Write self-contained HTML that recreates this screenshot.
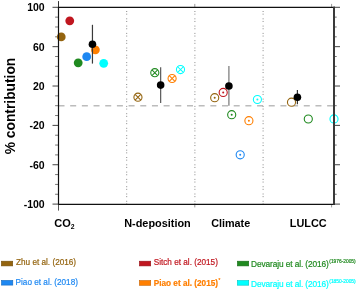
<!DOCTYPE html>
<html><head><meta charset="utf-8"><style>
html,body{margin:0;padding:0;background:#fff;width:357px;height:289px;overflow:hidden}
svg{display:block;transform:translateZ(0);will-change:transform;font-family:"Liberation Sans",sans-serif}
</style></head><body>
<svg width="357" height="289" viewBox="0 0 357 289">
<line x1="58.5" y1="105.85" x2="334.0" y2="105.85" stroke="#bcbcbc" stroke-width="1.5" stroke-dasharray="6 5.68"/>
<line x1="126.7" y1="7.3" x2="126.7" y2="204.1" stroke="#8a8a8a" stroke-width="1" stroke-dasharray="1 1.65 1 3.65" stroke-dashoffset="-3.7"/>
<line x1="194.9" y1="7.3" x2="194.9" y2="204.1" stroke="#8a8a8a" stroke-width="1" stroke-dasharray="1 1.65 1 3.65" stroke-dashoffset="-3.7"/>
<line x1="263.1" y1="7.3" x2="263.1" y2="204.1" stroke="#8a8a8a" stroke-width="1" stroke-dasharray="1 1.65 1 3.65" stroke-dashoffset="-3.7"/>
<line x1="52.5" y1="204.10" x2="58.5" y2="204.10" stroke="#444" stroke-width="1"/>
<line x1="334.0" y1="204.10" x2="340.0" y2="204.10" stroke="#444" stroke-width="1"/>
<line x1="55.1" y1="194.26" x2="58.5" y2="194.26" stroke="#777" stroke-width="1"/>
<line x1="334.0" y1="194.26" x2="336.7" y2="194.26" stroke="#777" stroke-width="1"/>
<line x1="55.1" y1="184.42" x2="58.5" y2="184.42" stroke="#777" stroke-width="1"/>
<line x1="334.0" y1="184.42" x2="336.7" y2="184.42" stroke="#777" stroke-width="1"/>
<line x1="55.1" y1="174.58" x2="58.5" y2="174.58" stroke="#777" stroke-width="1"/>
<line x1="334.0" y1="174.58" x2="336.7" y2="174.58" stroke="#777" stroke-width="1"/>
<line x1="52.5" y1="164.74" x2="58.5" y2="164.74" stroke="#444" stroke-width="1"/>
<line x1="334.0" y1="164.74" x2="340.0" y2="164.74" stroke="#444" stroke-width="1"/>
<line x1="55.1" y1="154.90" x2="58.5" y2="154.90" stroke="#777" stroke-width="1"/>
<line x1="334.0" y1="154.90" x2="336.7" y2="154.90" stroke="#777" stroke-width="1"/>
<line x1="55.1" y1="145.06" x2="58.5" y2="145.06" stroke="#777" stroke-width="1"/>
<line x1="334.0" y1="145.06" x2="336.7" y2="145.06" stroke="#777" stroke-width="1"/>
<line x1="55.1" y1="135.22" x2="58.5" y2="135.22" stroke="#777" stroke-width="1"/>
<line x1="334.0" y1="135.22" x2="336.7" y2="135.22" stroke="#777" stroke-width="1"/>
<line x1="52.5" y1="125.38" x2="58.5" y2="125.38" stroke="#444" stroke-width="1"/>
<line x1="334.0" y1="125.38" x2="340.0" y2="125.38" stroke="#444" stroke-width="1"/>
<line x1="55.1" y1="115.54" x2="58.5" y2="115.54" stroke="#777" stroke-width="1"/>
<line x1="334.0" y1="115.54" x2="336.7" y2="115.54" stroke="#777" stroke-width="1"/>
<line x1="55.1" y1="105.70" x2="58.5" y2="105.70" stroke="#777" stroke-width="1"/>
<line x1="334.0" y1="105.70" x2="336.7" y2="105.70" stroke="#777" stroke-width="1"/>
<line x1="55.1" y1="95.86" x2="58.5" y2="95.86" stroke="#777" stroke-width="1"/>
<line x1="334.0" y1="95.86" x2="336.7" y2="95.86" stroke="#777" stroke-width="1"/>
<line x1="52.5" y1="86.02" x2="58.5" y2="86.02" stroke="#444" stroke-width="1"/>
<line x1="334.0" y1="86.02" x2="340.0" y2="86.02" stroke="#444" stroke-width="1"/>
<line x1="55.1" y1="76.18" x2="58.5" y2="76.18" stroke="#777" stroke-width="1"/>
<line x1="334.0" y1="76.18" x2="336.7" y2="76.18" stroke="#777" stroke-width="1"/>
<line x1="55.1" y1="66.34" x2="58.5" y2="66.34" stroke="#777" stroke-width="1"/>
<line x1="334.0" y1="66.34" x2="336.7" y2="66.34" stroke="#777" stroke-width="1"/>
<line x1="55.1" y1="56.50" x2="58.5" y2="56.50" stroke="#777" stroke-width="1"/>
<line x1="334.0" y1="56.50" x2="336.7" y2="56.50" stroke="#777" stroke-width="1"/>
<line x1="52.5" y1="46.66" x2="58.5" y2="46.66" stroke="#444" stroke-width="1"/>
<line x1="334.0" y1="46.66" x2="340.0" y2="46.66" stroke="#444" stroke-width="1"/>
<line x1="55.1" y1="36.82" x2="58.5" y2="36.82" stroke="#777" stroke-width="1"/>
<line x1="334.0" y1="36.82" x2="336.7" y2="36.82" stroke="#777" stroke-width="1"/>
<line x1="55.1" y1="26.98" x2="58.5" y2="26.98" stroke="#777" stroke-width="1"/>
<line x1="334.0" y1="26.98" x2="336.7" y2="26.98" stroke="#777" stroke-width="1"/>
<line x1="55.1" y1="17.14" x2="58.5" y2="17.14" stroke="#777" stroke-width="1"/>
<line x1="334.0" y1="17.14" x2="336.7" y2="17.14" stroke="#777" stroke-width="1"/>
<line x1="52.5" y1="7.30" x2="58.5" y2="7.30" stroke="#444" stroke-width="1"/>
<line x1="334.0" y1="7.30" x2="340.0" y2="7.30" stroke="#444" stroke-width="1"/>
<line x1="58.5" y1="7.3" x2="58.5" y2="1.1" stroke="#333" stroke-width="1"/>
<line x1="58.5" y1="204.1" x2="58.5" y2="210.6" stroke="#555" stroke-width="1"/>
<line x1="194.8" y1="7.3" x2="194.8" y2="3.9" stroke="#999" stroke-width="1"/>
<line x1="194.8" y1="204.1" x2="194.8" y2="207.4" stroke="#999" stroke-width="1"/>
<line x1="331.6" y1="7.3" x2="331.6" y2="3.9" stroke="#999" stroke-width="1"/>
<line x1="331.6" y1="204.1" x2="331.6" y2="207.4" stroke="#999" stroke-width="1"/>
<text x="44.7" y="11.40" text-anchor="end" font-weight="bold" font-size="10.5">100</text>
<text x="44.7" y="50.76" text-anchor="end" font-weight="bold" font-size="10.5">60</text>
<text x="44.7" y="90.12" text-anchor="end" font-weight="bold" font-size="10.5">20</text>
<text x="44.7" y="129.48" text-anchor="end" font-weight="bold" font-size="10.5">-20</text>
<text x="44.7" y="168.84" text-anchor="end" font-weight="bold" font-size="10.5">-60</text>
<text x="44.7" y="208.20" text-anchor="end" font-weight="bold" font-size="10.5">-100</text>
<text transform="translate(15,106) rotate(-90)" text-anchor="middle" font-weight="bold" font-size="13.8">% contribution</text>
<text x="54.2" y="227.2" font-weight="bold" font-size="11">CO<tspan font-size="6.8" dy="2">2</tspan></text>
<text x="124.2" y="227.2" font-weight="bold" font-size="10.9">N-deposition</text>
<text x="211.2" y="227.2" font-weight="bold" font-size="10.8">Climate</text>
<text x="289.8" y="227.2" font-weight="bold" font-size="10.9">LULCC</text>
<circle cx="61.25" cy="36.9" r="4.4" fill="#94640f"/>
<circle cx="69.75" cy="20.85" r="4.4" fill="#c0161f"/>
<circle cx="78.2" cy="62.8" r="4.4" fill="#208a20"/>
<circle cx="86.7" cy="56.7" r="4.4" fill="#1e88f2"/>
<circle cx="95.4" cy="49.8" r="4.4" fill="#ff7f00"/>
<circle cx="103.7" cy="63.3" r="4.4" fill="#00ffff"/>
<line x1="92.45" y1="24.8" x2="92.45" y2="63.6" stroke="#3a3a3a" stroke-width="1.2"/>
<circle cx="92.45" cy="44.2" r="3.8" fill="#000"/>
<circle cx="137.95" cy="97.2" r="4.05" fill="#fff" stroke="#94640f" stroke-width="1.1"/>
<path d="M135.10 94.35L140.80 100.05M140.80 94.35L135.10 100.05" stroke="#94640f" stroke-width="1.05"/>
<circle cx="154.8" cy="72.7" r="4.05" fill="#fff" stroke="#208a20" stroke-width="1.1"/>
<path d="M151.95 69.85L157.65 75.55M157.65 69.85L151.95 75.55" stroke="#208a20" stroke-width="1.05"/>
<circle cx="172.1" cy="78.5" r="4.05" fill="#fff" stroke="#ff7f00" stroke-width="1.1"/>
<path d="M169.25 75.65L174.95 81.35M174.95 75.65L169.25 81.35" stroke="#ff7f00" stroke-width="1.05"/>
<circle cx="180.5" cy="69.6" r="4.05" fill="#fff" stroke="#00ffff" stroke-width="1.1"/>
<path d="M177.65 66.75L183.35 72.45M183.35 66.75L177.65 72.45" stroke="#00ffff" stroke-width="1.05"/>
<line x1="160.65" y1="67.3" x2="160.65" y2="102.9" stroke="#5a5a5a" stroke-width="1.2"/>
<circle cx="160.65" cy="85.1" r="3.8" fill="#000"/>
<circle cx="214.7" cy="97.7" r="4.05" fill="#fff" stroke="#94640f" stroke-width="1.1"/>
<circle cx="214.7" cy="97.7" r="1" fill="#94640f"/>
<circle cx="223.2" cy="92.4" r="4.05" fill="#fff" stroke="#c0161f" stroke-width="1.1"/>
<circle cx="223.2" cy="92.4" r="1" fill="#c0161f"/>
<circle cx="231.7" cy="114.7" r="4.05" fill="#fff" stroke="#208a20" stroke-width="1.1"/>
<circle cx="231.7" cy="114.7" r="1" fill="#208a20"/>
<circle cx="240.2" cy="154.8" r="4.05" fill="#fff" stroke="#1e88f2" stroke-width="1.1"/>
<circle cx="240.2" cy="154.8" r="1" fill="#1e88f2"/>
<circle cx="248.9" cy="120.7" r="4.05" fill="#fff" stroke="#ff7f00" stroke-width="1.1"/>
<circle cx="248.9" cy="120.7" r="1" fill="#ff7f00"/>
<circle cx="257.4" cy="99.5" r="4.05" fill="#fff" stroke="#00ffff" stroke-width="1.1"/>
<circle cx="257.4" cy="99.5" r="1" fill="#00ffff"/>
<line x1="228.9" y1="66.0" x2="228.9" y2="105.7" stroke="#777" stroke-width="1.2"/>
<circle cx="228.9" cy="86.0" r="3.8" fill="#000"/>
<circle cx="291.5" cy="102.2" r="4.05" fill="#fff" stroke="#94640f" stroke-width="1.1"/>
<circle cx="308.3" cy="119.0" r="4.05" fill="#fff" stroke="#208a20" stroke-width="1.1"/>
<circle cx="334.0" cy="118.9" r="4.05" fill="#fff" stroke="#00ffff" stroke-width="1.1"/>
<line x1="297.4" y1="90.0" x2="297.4" y2="104.2" stroke="#333" stroke-width="1.2"/>
<circle cx="297.4" cy="97.3" r="3.8" fill="#000"/>
<line x1="58.5" y1="7.3" x2="335.0" y2="7.3" stroke="#111" stroke-width="1.35"/>
<line x1="58.5" y1="204.45" x2="335.0" y2="204.45" stroke="#111" stroke-width="1.3"/>
<line x1="58.5" y1="6.7" x2="58.5" y2="204.7" stroke="#111" stroke-width="1.2"/>
<line x1="334.0" y1="6.7" x2="334.0" y2="204.7" stroke="#3a3a3a" stroke-width="2"/>
<rect x="1.40" y="261.20" width="11.3" height="4.7" fill="#94640f" stroke="#734e0b" stroke-width="0.6"/>
<text x="16.0" y="265.3" font-size="8.2" font-weight="normal" fill="#94640f" stroke="#94640f" stroke-width="0.2" letter-spacing="0">Zhu et al. (2016)</text>
<rect x="1.50" y="280.40" width="11.3" height="4.7" fill="#1e88f2" stroke="#176abc" stroke-width="0.6"/>
<text x="15.6" y="285.2" font-size="8.2" font-weight="normal" fill="#1e88f2" stroke="#1e88f2" stroke-width="0.2" letter-spacing="0">Piao et al. (2018)</text>
<rect x="139.40" y="261.20" width="11.3" height="4.7" fill="#c0161f" stroke="#951118" stroke-width="0.6"/>
<text x="153.7" y="265.35" font-size="8.2" font-weight="normal" fill="#c0161f" stroke="#c0161f" stroke-width="0.2" letter-spacing="0">Sitch et al. (2015)</text>
<rect x="139.40" y="280.60" width="11.3" height="4.7" fill="#ff7f00" stroke="#c66300" stroke-width="0.6"/>
<text x="153.8" y="285.9" font-size="8.2" font-weight="bold" fill="#ff7f00" stroke="#ff7f00" stroke-width="0.2" letter-spacing="0">Piao et al. (2015)<tspan font-size="4.7" font-weight="normal" dx="0.6" dy="-3.9" letter-spacing="0">*</tspan></text>
<rect x="237.40" y="261.20" width="11.3" height="4.7" fill="#208a20" stroke="#186b18" stroke-width="0.6"/>
<text x="251.1" y="266.6" font-size="8.3" font-weight="normal" fill="#208a20" stroke="#208a20" stroke-width="0.2" letter-spacing="-0.1">Devaraju et al. (2016)<tspan font-size="4.85" font-weight="normal" dx="0.6" dy="-3.9" letter-spacing="0">(1976-2005)</tspan></text>
<rect x="237.40" y="280.50" width="11.3" height="4.7" fill="#00ffff" stroke="#00c6c6" stroke-width="0.6"/>
<text x="251.1" y="286.6" font-size="8.3" font-weight="normal" fill="#00ffff" stroke="#00ffff" stroke-width="0.2" letter-spacing="-0.1">Devaraju et al. (2016)<tspan font-size="4.85" font-weight="normal" dx="0.6" dy="-3.9" letter-spacing="0">(1850-2005)</tspan></text>
</svg>
</body></html>
